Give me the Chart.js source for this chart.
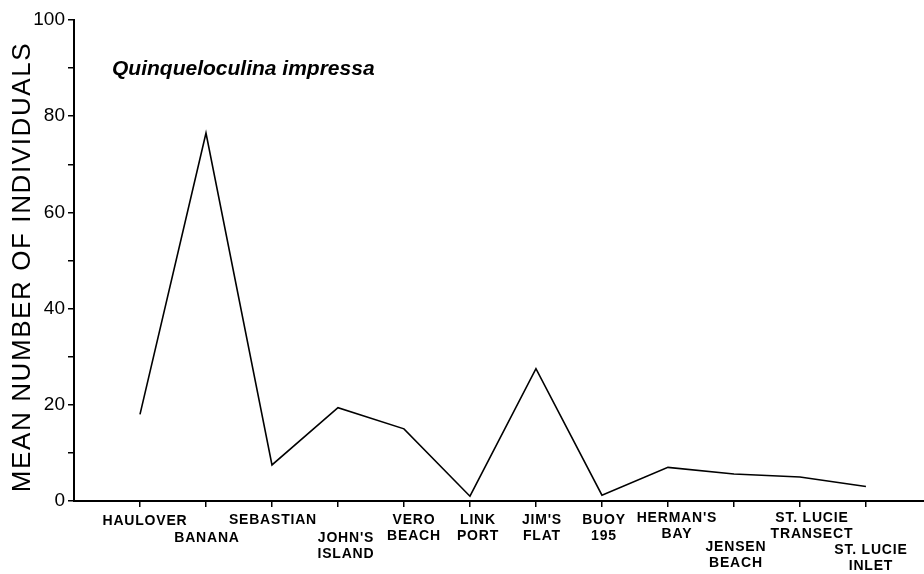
<!DOCTYPE html>
<html>
<head>
<meta charset="utf-8">
<script src="https://cdn.jsdelivr.net/npm/chart.js@4/dist/chart.umd.min.js"></script>
<style>
  html, body { margin: 0; padding: 0; background: #fff; }
  #wrap { width: 924px; height: 574px; position: relative; }
</style>
</head>
<body>
<div id="wrap"><canvas id="c" width="924" height="574"></canvas></div>
<script>
// ---- data ----
const stations = ["HAULOVER", "BANANA", "SEBASTIAN", "JOHN'S ISLAND", "VERO BEACH", "LINK PORT",
                  "JIM'S FLAT", "BUOY 195", "HERMAN'S BAY", "JENSEN BEACH", "ST. LUCIE TRANSECT", "ST. LUCIE INLET"];
// tick label lines
const stationLabels = [
  ["HAULOVER"],
  ["BANANA"],
  ["SEBASTIAN"],
  ["JOHN'S", "ISLAND"],
  ["VERO", "BEACH"],
  ["LINK", "PORT"],
  ["JIM'S", "FLAT"],
  ["BUOY", "195"],
  ["HERMAN'S", "BAY"],
  ["JENSEN", "BEACH"],
  ["ST. LUCIE", "TRANSECT"],
  ["ST. LUCIE", "INLET"]
];
const meanIndividuals = [18, 76.5, 7.5, 19.4, 15, 1, 27.5, 1.2, 7, 5.6, 5, 3];
const yTicks = [0, 20, 40, 60, 80, 100];
const chartTitle = "Quinqueloculina impressa";
const yTitle = "MEAN NUMBER OF INDIVIDUALS";

// ---- layout of the hand-lettered station labels (offsets from tick, px) ----
const labelNudge = [
  { dx: 5, dy: 20 }, { dx: 1, dy: 37 }, { dx: 1, dy: 19 }, { dx: 8, dy: 37 },
  { dx: 10, dy: 19 }, { dx: 8, dy: 19 }, { dx: 6, dy: 19 }, { dx: 2, dy: 19 },
  { dx: 9, dy: 17 }, { dx: 2, dy: 46 }, { dx: 12, dy: 17 }, { dx: 5, dy: 49 }
];

const points = meanIndividuals.map((v, i) => ({ x: i, y: v }));

const textPlugin = {
  id: 'handText',
  afterDraw(chart) {
    const ctx = chart.ctx;
    const xs = chart.scales.x;
    const axisY = chart.scales.y.getPixelForValue(0);
    ctx.save();
    ctx.fillStyle = '#000';
    // inner title
    ctx.font = 'italic bold 21px "Liberation Sans", Arial, sans-serif';
    ctx.textAlign = 'left';
    ctx.textBaseline = 'alphabetic';
    ctx.fillText(chartTitle, 112, 75);
    // station labels
    ctx.font = 'bold 14px "Liberation Sans", Arial, sans-serif';
    ctx.letterSpacing = '0.8px';
    ctx.textAlign = 'center';
    ctx.textBaseline = 'middle';
    stationLabels.forEach((lines, i) => {
      const x = xs.getPixelForValue(i) + labelNudge[i].dx;
      lines.forEach((ln, k) => {
        ctx.fillText(ln, x, axisY + labelNudge[i].dy + k * 16);
      });
    });
    // y axis title
    ctx.font = '26px "Liberation Sans", Arial, sans-serif';
    ctx.letterSpacing = '1.6px';
    ctx.translate(23, 267);
    ctx.rotate(-Math.PI / 2);
    ctx.textAlign = 'center';
    ctx.textBaseline = 'middle';
    ctx.fillText(yTitle, 0, 0);
    ctx.restore();
  }
};

new Chart(document.getElementById('c'), {
  type: 'line',
  data: {
    datasets: [{
      data: points,
      borderColor: '#000',
      borderWidth: 1.6,
      pointRadius: 0,
      tension: 0,
      fill: false
    }]
  },
  options: {
    responsive: false,
    animation: false,
    layout: { padding: { top: 20, right: 0, left: 0, bottom: 0 } },
    plugins: { legend: { display: false }, tooltip: { enabled: false } },
    scales: {
      x: {
        type: 'linear',
        min: -1,
        max: 11.88,
        afterBuildTicks(scale) {
          scale.ticks = stations.map((s, i) => ({ value: i }));
        },
        afterFit(scale) { scale.height = 73; },
        ticks: { display: false },
        grid: { display: true, drawOnChartArea: false, drawTicks: true, tickLength: 6, color: '#000', lineWidth: 1.5 },
        border: { display: true, color: '#000', width: 2 }
      },
      y: {
        min: 0,
        max: 100,
        afterBuildTicks(scale) {
          const t = [];
          for (let v = 0; v <= 100; v += 10) t.push({ value: v });
          scale.ticks = t;
        },
        afterFit(scale) { scale.width = 74; },
        ticks: {
          padding: 3,
          color: '#000',
          font: { family: '"Liberation Sans", Arial, sans-serif', size: 19 },
          callback(value) { return yTicks.includes(value) ? String(value) : ''; }
        },
        grid: { display: true, drawOnChartArea: false, drawTicks: true, tickLength: 6, color: '#000', lineWidth: 1.5 },
        border: { display: true, color: '#000', width: 2 }
      }
    }
  },
  plugins: [textPlugin]
});
</script>
</body>
</html>
